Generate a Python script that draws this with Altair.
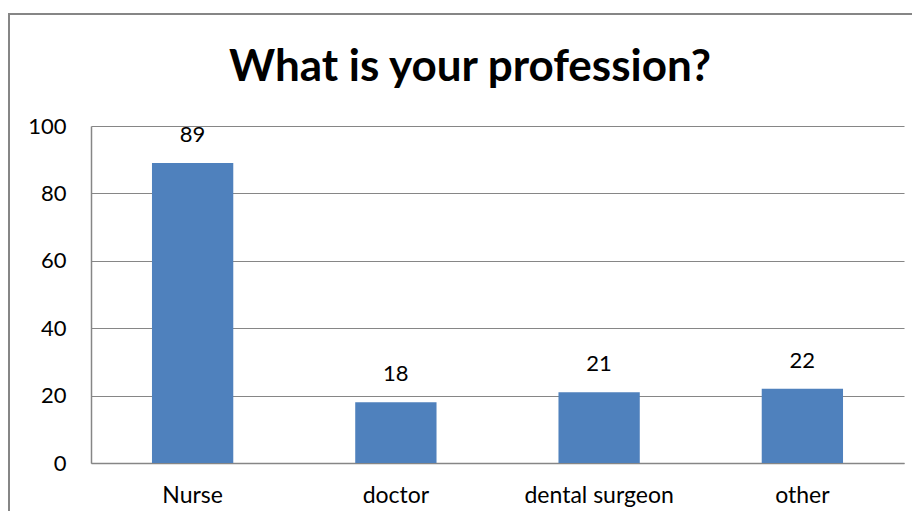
import altair as alt
import pandas as pd

title_text = "What is your profession?"
categories = ["Nurse", "doctor", "dental surgeon", "other"]
counts = [89, 18, 21, 22]
y_ticks = [0, 20, 40, 60, 80, 100]

df = pd.DataFrame({"profession": categories, "count": counts})

FONT = "Lato"
x_enc = alt.X("profession:N", sort=categories,
              scale=alt.Scale(paddingInner=0.6, paddingOuter=0.3),
              axis=alt.Axis(title=None, labelAngle=0, labelFontSize=23, labelFont=FONT,
                            labelColor="#000000", labelPadding=21, ticks=False,
                            domainColor="#868686", domainWidth=1.5, grid=False))
y_enc = alt.Y("count:Q", scale=alt.Scale(domain=[0, 100], nice=False),
              axis=alt.Axis(title=None, values=y_ticks, labelFontSize=22, labelFont=FONT,
                            labelColor="#000000", labelPadding=25, ticks=False,
                            domainColor="#868686", domainWidth=1.5,
                            gridColor="#868686", gridWidth=1.2))

frame = alt.Chart(alt.Data(values=[{"a": 1}])).mark_rect(
    filled=False, stroke="#868686", strokeWidth=2
).encode(x=alt.value(-82), x2=alt.value(860), y=alt.value(-112), y2=alt.value(420))

title = alt.Chart(alt.Data(values=[{"t": title_text}])).mark_text(
    fontSize=44, font=FONT, fontWeight="bold", color="#000000",
    align="center", baseline="alphabetic"
).encode(x=alt.value(379), y=alt.value(-45), text="t:N")

bars = alt.Chart(df).mark_bar(color="#4F81BD").encode(x=x_enc, y=y_enc)

labels = alt.Chart(df).mark_text(
    baseline="bottom", dy=-16, fontSize=22, font=FONT, color="#000000"
).encode(x=alt.X("profession:N", sort=categories), y="count:Q", text="count:Q")

chart = alt.layer(frame, title, bars, labels).properties(
    width=813, height=337,
    padding={"left": 83, "top": 118, "right": 8, "bottom": 48},
    autosize=alt.AutoSizeParams(type="none"),
).configure_view(stroke=None)

chart.save("out.html", embed_options={"renderer": "svg", "actions": False})
